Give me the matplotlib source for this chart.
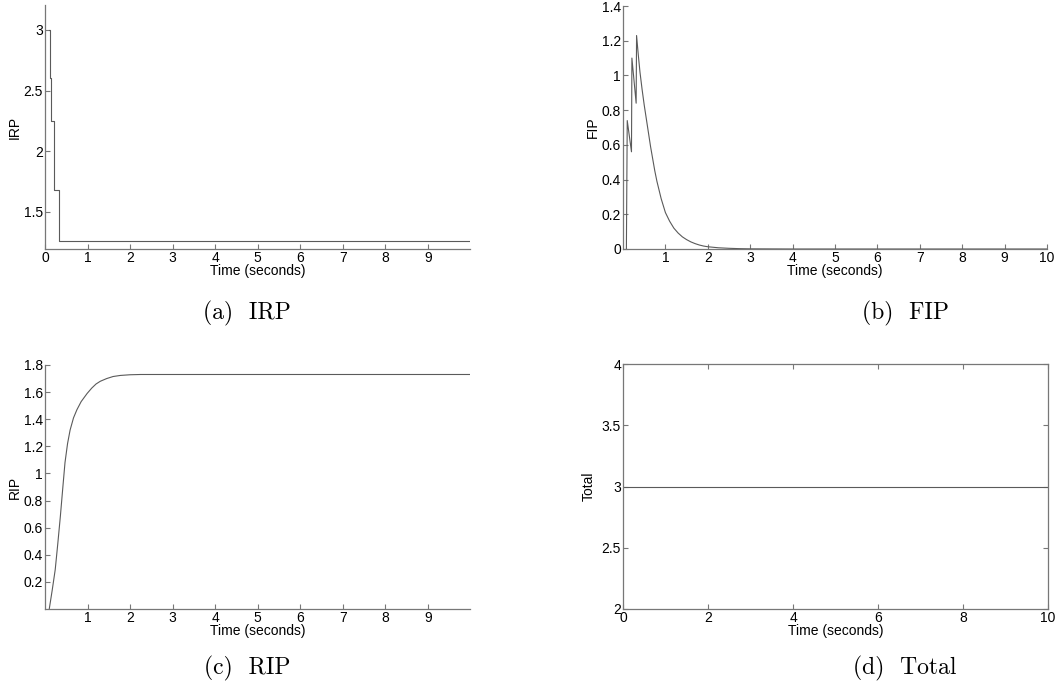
import matplotlib
matplotlib.use("Agg")
import matplotlib.pyplot as plt

# IRP: stepwise drop, then flat
irp_t = [0.10, 0.12, 0.13, 0.22, 0.33, 0.34, 9.99]
irp_v = [3.00, 2.60, 2.25, 1.68, 1.40, 1.26, 1.26]

# FIP: oscillating start, then decay to zero
fip_t = [0.08, 0.10, 0.20, 0.21, 0.31, 0.32, 0.36, 0.40, 0.45, 0.50, 0.55,
         0.60, 0.65, 0.70, 0.75, 0.80, 0.85, 0.90, 0.95, 1.00, 1.10, 1.20,
         1.30, 1.40, 1.50, 1.60, 1.70, 1.80, 1.90, 2.00, 2.25, 2.50, 2.75,
         3.00, 3.50, 4.00, 10.0]
fip_v = [0.00, 0.74, 0.56, 1.10, 0.84, 1.23, 1.12, 1.02, 0.92, 0.83, 0.75,
         0.67, 0.59, 0.52, 0.45, 0.39, 0.34, 0.29, 0.25, 0.21, 0.16, 0.12,
         0.092, 0.070, 0.054, 0.041, 0.031, 0.023, 0.017, 0.013, 0.007,
         0.004, 0.002, 0.001, 0.0005, 0.0, 0.0]

# RIP: rise to plateau
rip_t = [0.10, 0.17, 0.24, 0.30, 0.36, 0.42, 0.47, 0.53, 0.59, 0.67, 0.75,
         0.85, 0.99, 1.10, 1.20, 1.30, 1.45, 1.60, 1.77, 2.00, 2.25, 9.99]
rip_v = [0.00, 0.14, 0.29, 0.48, 0.68, 0.90, 1.08, 1.22, 1.32, 1.41, 1.47,
         1.53, 1.59, 1.63, 1.66, 1.68, 1.70, 1.715, 1.723, 1.728, 1.73, 1.73]

# Total: constant
tot_t = [0, 10]
tot_v = [3, 3]

LINE_COL = "#5a5a5a"
AX_COL = "#777777"
TICK_FS = 10

plt.rcParams["font.family"] = ["Liberation Sans", "DejaVu Sans"]

fig = plt.figure(figsize=(10.6, 6.9), dpi=100)

L1, R1 = 45 / 1060, 470 / 1060
L2, R2 = 623 / 1060, 1047 / 1060
B1, T1 = 1 - 249 / 690, 1 - 5 / 690
B2, T2 = 1 - 609 / 690, 1 - 365 / 690


def style(ax, box=False):
    for side in ["top", "right"]:
        ax.spines[side].set_visible(box)
    for sp in ax.spines.values():
        sp.set_color(AX_COL)
        sp.set_linewidth(0.9)
    ax.tick_params(direction="in", length=3.5, width=0.8, color=AX_COL,
                   labelsize=TICK_FS, pad=1.5, top=box, right=box)
    ax.set_xlabel("Time (seconds)", fontsize=TICK_FS, labelpad=-1)


ax_a = fig.add_axes([L1, B1, R1 - L1, T1 - B1])
ax_a.plot(irp_t, irp_v, drawstyle="steps-post", color=LINE_COL, lw=0.8)
ax_a.set_xlim(0, 9.99)
ax_a.set_ylim(1.195, 3.205)
ax_a.set_xticks(range(0, 10))
ax_a.set_yticks([1.5, 2, 2.5, 3])
ax_a.set_yticklabels(["1.5", "2", "2.5", "3"])
ax_a.set_ylabel("IRP", fontsize=TICK_FS, labelpad=1)
style(ax_a)

ax_b = fig.add_axes([L2, B1, R2 - L2, 1 - 6 / 690 - B1])
ax_b.plot(fip_t, fip_v, color=LINE_COL, lw=0.8)
ax_b.set_xlim(0, 10)
ax_b.set_ylim(0, 1.4)
ax_b.set_xticks(range(1, 11))
yt = [0, 0.2, 0.4, 0.6, 0.8, 1.0, 1.2, 1.4]
ax_b.set_yticks(yt)
ax_b.set_yticklabels(["0", "0.2", "0.4", "0.6", "0.8", "1", "1.2", "1.4"])
ax_b.set_ylabel("FIP", fontsize=TICK_FS, labelpad=1)
style(ax_b)

ax_c = fig.add_axes([L1, B2, R1 - L1, T2 - B2])
ax_c.plot(rip_t, rip_v, color=LINE_COL, lw=0.8)
ax_c.set_xlim(0, 9.99)
ax_c.set_ylim(0, 1.8)
ax_c.set_xticks(range(1, 10))
yt = [0.2, 0.4, 0.6, 0.8, 1.0, 1.2, 1.4, 1.6, 1.8]
ax_c.set_yticks(yt)
ax_c.set_yticklabels(["0.2", "0.4", "0.6", "0.8", "1", "1.2", "1.4", "1.6", "1.8"])
ax_c.set_ylabel("RIP", fontsize=TICK_FS, labelpad=1)
style(ax_c)

ax_d = fig.add_axes([L2, B2, 1048 / 1060 - L2, 1 - 364 / 690 - B2])
ax_d.plot(tot_t, tot_v, color=LINE_COL, lw=0.8)
ax_d.set_xlim(0, 10)
ax_d.set_ylim(2, 4)
ax_d.set_xticks(range(0, 11, 2))
ax_d.set_yticks([2, 2.5, 3, 3.5, 4])
ax_d.set_yticklabels(["2", "2.5", "3", "3.5", "4"])
ax_d.set_ylabel("Total", fontsize=TICK_FS, labelpad=4)
style(ax_d, box=True)

captions = ["(a)  IRP", "(b)  FIP", "(c)  RIP", "(d)  Total"]
cx = [247 / 1060, 905 / 1060, 247 / 1060, 905 / 1060]
cy = [1 - 313 / 690, 1 - 313 / 690, 1 - 668 / 690, 1 - 668 / 690]
for txt, x, y in zip(captions, cx, cy):
    fig.text(x, y, txt, ha="center", va="center", fontsize=17,
             family=["cmr10", "DejaVu Serif"])

fig.savefig("out.png", dpi=100)
